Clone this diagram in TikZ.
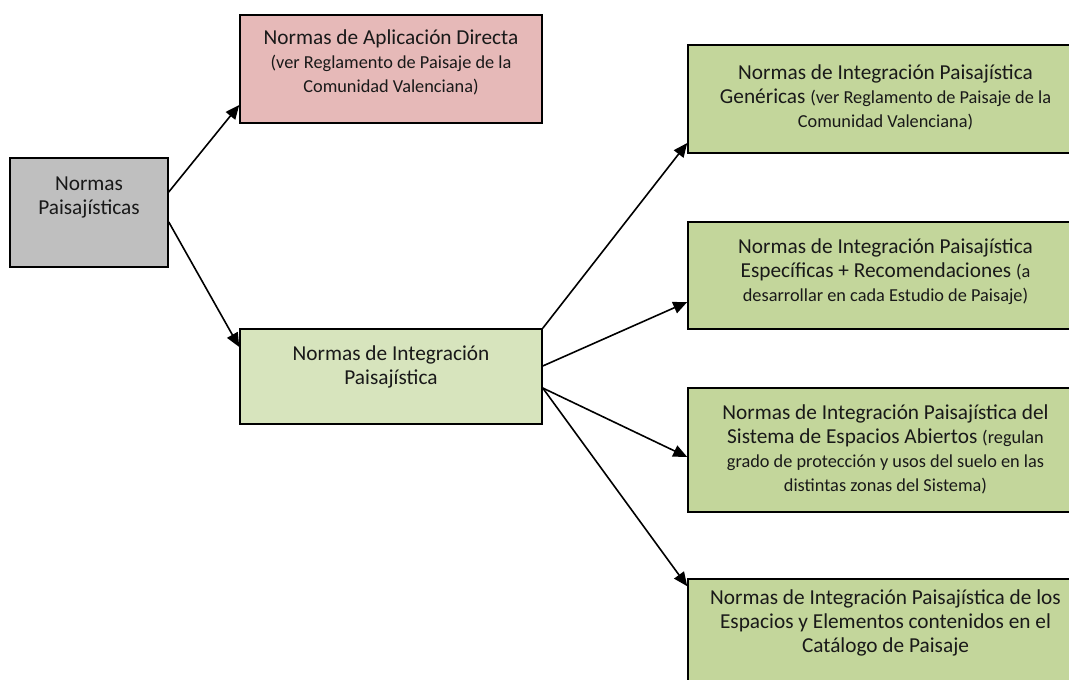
\documentclass[tikz,border=0pt]{standalone}
\usepackage{fontspec}
\setmainfont{Carlito}
\usepackage{tikz}
\usetikzlibrary{arrows.meta,calc}
\definecolor{gris}{HTML}{BFBFBF}
\definecolor{rosa}{HTML}{E6B9B8}
\definecolor{verdeclaro}{HTML}{D7E4BD}
\definecolor{verde}{HTML}{C3D69B}
\tikzset{
  caja/.style={draw=black, line width=1.5pt, rectangle, inner sep=0pt},
  texto/.style={align=center, font=\fontsize{21.3}{24}\selectfont, text=black!90},
  flecha/.style={line width=1.6pt, -{Triangle[length=14pt,width=12pt]}}
}
\newcommand{\peq}[1]{{\fontsize{18.3}{24}\selectfont #1}}

\begin{document}
\begin{tikzpicture}[x=1pt,y=-1pt]
\useasboundingbox (0,0) rectangle (1069,680);
\clip (0,0) rectangle (1069,680);
% cajas
\node[caja, fill=gris, minimum width=158pt, minimum height=109pt] (pais) at (89,212.5) {};
\node[caja, fill=rosa, minimum width=302pt, minimum height=108pt] (directa) at (391,69) {};
\node[caja, fill=verdeclaro, minimum width=302pt, minimum height=95pt] (integ) at (391,376.5) {};
\node[caja, fill=verde, minimum width=395pt, minimum height=108pt] (gen) at (885.5,99) {};
\node[caja, fill=verde, minimum width=395pt, minimum height=107pt] (espec) at (885.5,275.5) {};
\node[caja, fill=verde, minimum width=395pt, minimum height=124pt] (abiertos) at (885.5,450) {};
\node[caja, fill=verde, minimum width=395pt, minimum height=108pt] (catalogo) at (885.5,633) {};
% textos
\node[texto] (pais-t) at (89,197) {Normas\\Paisajísticas};
\node[texto] (directa-t) at (391,62) {Normas de Aplicación Directa\\\peq{(ver Reglamento de Paisaje de la}\\\peq{Comunidad Valenciana)}};
\node[texto] (integ-t) at (391,367) {Normas de Integración\\Paisajística};
\node[texto] (gen-t) at (885.5,97) {Normas de Integración Paisajística\\Genéricas \peq{(ver Reglamento de Paisaje de la}\\\peq{Comunidad Valenciana)}};
\node[texto] (espec-t) at (885.5,272) {Normas de Integración Paisajística\\Específicas + Recomendaciones \peq{(a}\\\peq{desarrollar en cada Estudio de Paisaje)}};
\node[texto] (abiertos-t) at (885.5,449) {Normas de Integración Paisajística del\\Sistema de Espacios Abiertos \peq{(regulan}\\\peq{grado de protección y usos del suelo en las}\\\peq{distintas zonas del Sistema)}};
\node[texto] (catalogo-t) at (885.5,623) {Normas de Integración Paisajística de los\\Espacios y Elementos contenidos en el\\Catálogo de Paisaje};
% flechas
\draw[flecha] ([yshift=20.5pt]pais.east) -- ([yshift=-36pt]directa.west);
\draw[flecha] ([yshift=-9.5pt]pais.east) -- ([yshift=29.5pt]integ.west);
\draw[flecha] (integ.north east) -- ([yshift=-44pt]gen.west);
\draw[flecha] ([yshift=10.5pt]integ.east) -- ([yshift=-26.5pt]espec.west);
\draw[flecha] ([yshift=-11.5pt]integ.east) -- ([yshift=-7pt]abiertos.west);
\draw[flecha] ([yshift=-11.5pt]integ.east) -- ([yshift=-8pt]catalogo.north west);
\end{tikzpicture}
\end{document}
